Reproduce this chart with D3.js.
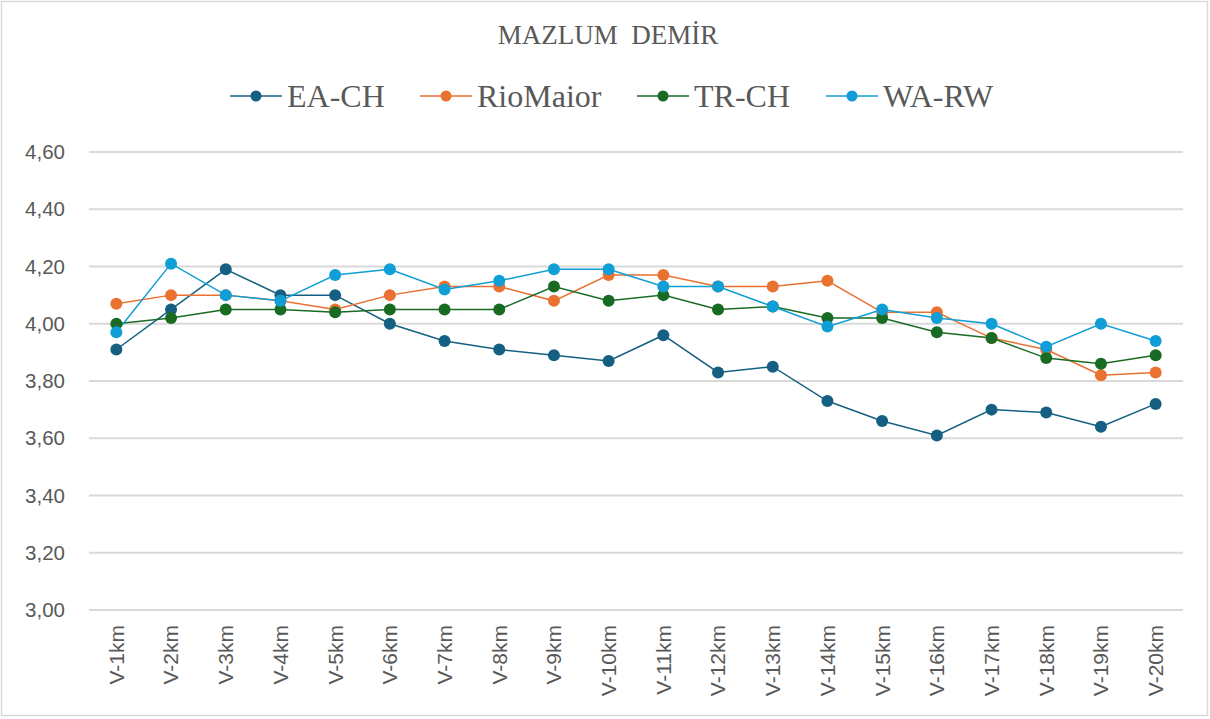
<!DOCTYPE html>
<html>
<head>
<meta charset="utf-8">
<script src="https://cdnjs.cloudflare.com/ajax/libs/d3/7.8.5/d3.min.js"></script>
<style>
  body { margin: 0; background: #fff; }
</style>
</head>
<body>
<div id="chart"></div>
<script>
var categories = ["V-1km", "V-2km", "V-3km", "V-4km", "V-5km", "V-6km", "V-7km", "V-8km", "V-9km", "V-10km",
                  "V-11km", "V-12km", "V-13km", "V-14km", "V-15km", "V-16km", "V-17km", "V-18km", "V-19km", "V-20km"];

var seriesNames = ["EA-CH", "RioMaior", "TR-CH", "WA-RW"];
var seriesColors = ["#156082", "#E97132", "#196B24", "#0F9ED5"];

var eaCh = [3.91, 4.05, 4.19, 4.10, 4.10, 4.00, 3.94, 3.91, 3.89, 3.87,
            3.96, 3.83, 3.85, 3.73, 3.66, 3.61, 3.70, 3.69, 3.64, 3.72];
var rioMaior = [4.07, 4.10, 4.10, 4.08, 4.05, 4.10, 4.13, 4.13, 4.08, 4.17,
                4.17, 4.13, 4.13, 4.15, 4.04, 4.04, 3.95, 3.91, 3.82, 3.83];
var trCh = [4.00, 4.02, 4.05, 4.05, 4.04, 4.05, 4.05, 4.05, 4.13, 4.08,
            4.10, 4.05, 4.06, 4.02, 4.02, 3.97, 3.95, 3.88, 3.86, 3.89];
var waRw = [3.97, 4.21, 4.10, 4.08, 4.17, 4.19, 4.12, 4.15, 4.19, 4.19,
            4.13, 4.13, 4.06, 3.99, 4.05, 4.02, 4.00, 3.92, 4.00, 3.94];

var yTicks = [3.0, 3.2, 3.4, 3.6, 3.8, 4.0, 4.2, 4.4, 4.6];

var width = 1210,
    height = 719;

var svg = d3.select("#chart")
    .append("svg")
    .attr("width", width)
    .attr("height", height);

// outer frame
svg.append("rect")
    .attr("x", 1.5).attr("y", 1.5)
    .attr("width", 1206).attr("height", 714)
    .attr("fill", "#fff")
    .attr("stroke", "#d9d9d9")
    .attr("stroke-width", 1.5);

var x = d3.scaleBand()
    .domain(categories)
    .range([89, 1183]);

var y = d3.scaleLinear()
    .domain([3.0, 4.6])
    .range([610, 152]);

/* gridlines */
svg.append("g")
    .selectAll("line")
    .data(yTicks)
    .enter().append("line")
    .attr("x1", 89).attr("x2", 1183)
    .attr("y1", function(d) { return y(d); })
    .attr("y2", function(d) { return y(d); })
    .attr("stroke", "#d9d9d9")
    .attr("stroke-width", 2);

/* y axis labels */
var yAxis = d3.axisLeft(y)
    .tickValues(yTicks)
    .tickSize(0)
    .tickPadding(0)
    .tickFormat(function(d) { return d3.format(".2f")(d).replace(".", ","); });

var yg = svg.append("g")
    .attr("transform", "translate(65,0)")
    .call(yAxis);
yg.select(".domain").remove();
yg.selectAll("text")
    .attr("fill", "#595959")
    .style("font-family", "'Liberation Sans', Arial, sans-serif")
    .style("font-size", "20.5px");

/* x axis labels */
var xAxis = d3.axisBottom(x).tickSize(0).tickPadding(0);
var xg = svg.append("g")
    .attr("transform", "translate(0,625)")
    .call(xAxis);
xg.select(".domain").remove();
xg.selectAll("text")
    .attr("fill", "#595959")
    .attr("transform", "rotate(-90)")
    .attr("x", 0)
    .attr("y", 0)
    .attr("dy", "0.35em")
    .attr("text-anchor", "end")
    .style("font-family", "'Liberation Sans', Arial, sans-serif")
    .style("font-size", "21px");

/* series */
var allSeries = [eaCh, rioMaior, trCh, waRw];

var line = d3.line()
    .x(function(d, i) { return x(categories[i]) + x.bandwidth() / 2; })
    .y(function(d) { return y(d); });

allSeries.forEach(function(values, s) {
    svg.append("path")
        .datum(values)
        .attr("fill", "none")
        .attr("stroke", seriesColors[s])
        .attr("stroke-width", 1.5)
        .attr("d", line);
});

allSeries.forEach(function(values, s) {
    svg.append("g")
        .selectAll("circle")
        .data(values)
        .enter().append("circle")
        .attr("cx", function(d, i) { return x(categories[i]) + x.bandwidth() / 2; })
        .attr("cy", function(d) { return y(d); })
        .attr("r", 6)
        .attr("fill", seriesColors[s]);
});

/* title */
svg.append("text")
    .attr("x", 608)
    .attr("y", 44)
    .attr("text-anchor", "middle")
    .attr("fill", "#595959")
    .style("font-family", "'Liberation Serif', 'Times New Roman', serif")
    .style("font-size", "27px")
    .style("white-space", "pre")
    .text("MAZLUM  DEMİR");

/* legend */
var legendX = [230, 420, 637, 826];
var legend = svg.append("g")
    .selectAll("g")
    .data(seriesNames)
    .enter().append("g")
    .attr("transform", function(d, i) { return "translate(" + legendX[i] + ",96)"; });

legend.append("line")
    .attr("x1", 0).attr("x2", 52)
    .attr("y1", 0).attr("y2", 0)
    .attr("stroke", function(d, i) { return seriesColors[i]; })
    .attr("stroke-width", 1.5);

legend.append("circle")
    .attr("cx", 26).attr("cy", 0).attr("r", 5.5)
    .attr("fill", function(d, i) { return seriesColors[i]; });

legend.append("text")
    .attr("x", 57)
    .attr("y", 11)
    .attr("fill", "#595959")
    .style("font-family", "'Liberation Serif', 'Times New Roman', serif")
    .style("font-size", "32px")
    .text(function(d) { return d; });
</script>
</body>
</html>
